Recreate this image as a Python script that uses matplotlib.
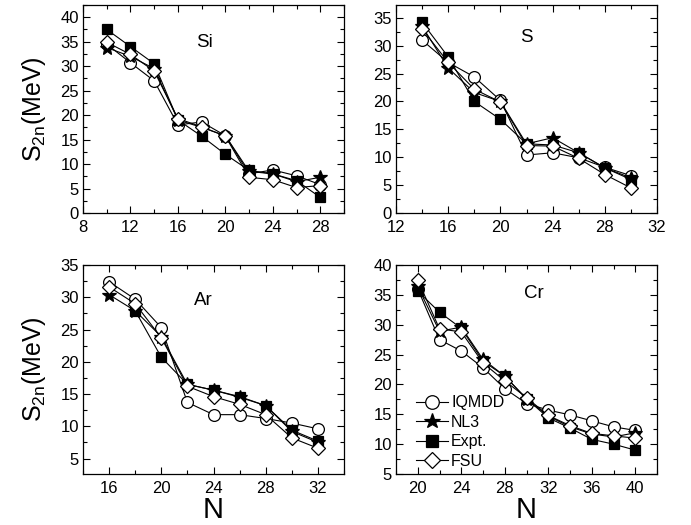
import matplotlib
matplotlib.use("Agg")
import matplotlib.pyplot as plt
from matplotlib.ticker import MultipleLocator
import numpy as np

plt.rcParams['font.family'] = ['Liberation Sans', 'DejaVu Sans']

# ---- data ----
si_N = [10, 12, 14, 16, 18, 20, 22, 24, 26, 28]
si_iqmdd = [34.5, 30.7, 27.0, 18.0, 18.6, 15.8, 8.0, 8.8, 7.6, 5.8]
si_nl3 = [33.8, 32.0, 29.5, 19.0, 17.5, 15.8, 8.5, 8.0, 6.4, 7.3]
si_expt = [37.5, 34.0, 30.5, 19.0, 15.7, 12.0, 8.7, 8.0, 6.6, 3.2]
si_fsu = [34.9, 32.4, 29.0, 19.3, 17.6, 15.7, 7.3, 6.8, 5.2, 5.6]

s_N = [14, 16, 18, 20, 22, 24, 26, 28, 30]
s_iqmdd = [31.0, 27.0, 24.4, 20.2, 10.4, 10.8, 9.9, 8.2, 6.7]
s_nl3 = [33.5, 26.0, 21.6, 20.0, 12.4, 13.5, 10.8, 8.1, 6.3]
s_expt = [34.2, 28.0, 20.0, 16.8, 12.4, 12.2, 10.8, 8.1, 6.0]
s_fsu = [33.0, 27.0, 22.2, 19.9, 12.1, 12.0, 9.8, 6.9, 4.5]

ar_N = [16, 18, 20, 22, 24, 26, 28, 30, 32]
ar_iqmdd = [32.4, 29.7, 25.3, 13.7, 11.8, 11.8, 11.2, 10.5, 9.6]
ar_nl3 = [30.4, 27.9, 23.9, 16.5, 15.6, 14.6, 13.2, 9.2, 7.5]
ar_expt_N = [18, 20, 22, 24, 26, 28, 30, 32]
ar_expt = [27.9, 20.7, 16.5, 15.6, 14.5, 13.2, 9.4, 7.7]
ar_fsu = [31.6, 29.0, 23.7, 16.2, 14.6, 13.4, 11.8, 8.2, 6.6]

cr_N = [20, 22, 24, 26, 28, 30, 32, 34, 36, 38, 40]
cr_iqmdd = [36.0, 27.5, 25.6, 22.8, 19.3, 16.8, 15.7, 14.9, 13.9, 12.9, 12.3]
cr_nl3 = [36.4, 28.9, 29.6, 24.2, 21.4, 17.6, 14.7, 12.9, 11.7, 11.2, 11.9]
cr_expt = [35.6, 32.1, 29.4, 23.9, 21.4, 17.6, 14.4, 12.7, 10.8, 10.0, 9.0]
cr_fsu = [37.5, 29.3, 28.8, 23.6, 20.6, 17.8, 14.8, 13.1, 11.8, 11.4, 11.0]

labels = ["IQMDD", "NL3", "Expt.", "FSU"]

fig = plt.figure(figsize=(6.91, 5.25), dpi=100)

W = 261 / 691
pos = {
    'Si': [83 / 691, 1 - 213 / 525, W, 208 / 525],
    'S': [396 / 691, 1 - 213 / 525, W, 208 / 525],
    'Ar': [83 / 691, 1 - 474 / 525, W, 209 / 525],
    'Cr': [396 / 691, 1 - 474 / 525, W, 209 / 525],
}

styles = [
    dict(marker='o', ms=8.5, mfc='white', mec='black', color='black'),
    dict(marker='*', ms=10, mfc='black', mec='black', color='black'),
    dict(marker='s', ms=7, mfc='black', mec='black', color='black'),
    dict(marker='D', ms=7, mfc='white', mec='black', color='black'),
]

panels = {
    'Si': ([(si_N, si_iqmdd), (si_N, si_nl3), (si_N, si_expt), (si_N, si_fsu)],
           (8, 30), (0, 42.5), 0.467, 0.82),
    'S': ([(s_N, s_iqmdd), (s_N, s_nl3), (s_N, s_expt), (s_N, s_fsu)],
          (12, 32), (0, 37.3), 0.50, 0.845),
    'Ar': ([(ar_N, ar_iqmdd), (ar_N, ar_nl3), (ar_expt_N, ar_expt), (ar_N, ar_fsu)],
           (14, 34), (2.6, 35), 0.46, 0.83),
    'Cr': ([(cr_N, cr_iqmdd), (cr_N, cr_nl3), (cr_N, cr_expt), (cr_N, cr_fsu)],
           (18, 42), (5, 40), 0.53, 0.866),
}

for name, (series, xl, yl, tx, ty) in panels.items():
    ax = fig.add_axes(pos[name])
    handles = []
    for i, ((x, y), st) in enumerate(zip(series, styles)):
        h, = ax.plot(x, y, lw=0.8, mew=0.9, zorder=2 + i, label=labels[i], **st)
        handles.append(h)
    ax.set_xlim(*xl)
    ax.set_ylim(*yl)
    ax.xaxis.set_major_locator(MultipleLocator(4))
    ax.xaxis.set_minor_locator(MultipleLocator(2))
    ax.yaxis.set_major_locator(MultipleLocator(5))
    ax.yaxis.set_minor_locator(MultipleLocator(2.5))
    ax.tick_params(which='both', direction='in', top=True, right=True, labelsize=12, width=0.8)
    ax.tick_params(which='major', length=5)
    ax.tick_params(which='minor', length=3)
    ax.tick_params(axis='x', pad=5)
    ax.tick_params(axis='y', pad=3)
    for sp in ax.spines.values():
        sp.set_linewidth(0.9)
    ax.text(tx, ty, name, transform=ax.transAxes, ha='center', va='center', fontsize=13.5)
    if name in ('Si', 'Ar'):
        ax.set_ylabel(r'S$_{\mathregular{2n}}$(MeV)', fontsize=18, labelpad=9)
    if name in ('Ar', 'Cr'):
        ax.set_xlabel('N', fontsize=21, labelpad=0)
    if name == 'Cr':
        ax.legend(handles=handles, loc='lower left', bbox_to_anchor=(0.04, -0.02),
                  frameon=False, fontsize=11.5, handlelength=2.0, handletextpad=0.2,
                  labelspacing=0.28, markerscale=1.15, borderaxespad=0.2)

fig.savefig('out.png', dpi=100)
